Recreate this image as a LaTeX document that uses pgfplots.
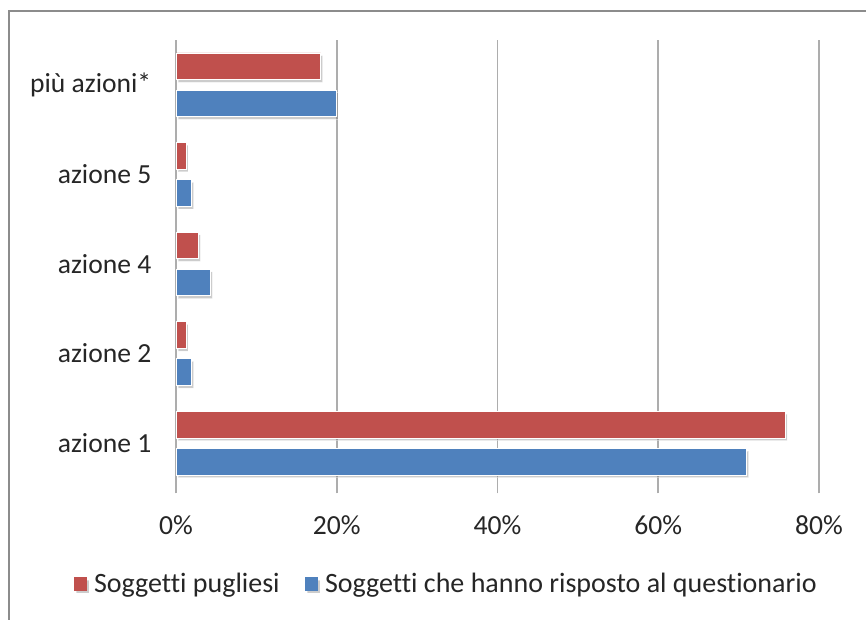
\documentclass[border=0pt]{standalone}
\usepackage{pgfplots}
\pgfplotsset{compat=1.18}
\usepackage{fontspec}
\setmainfont{Carlito}[Ligatures=NoCommon]
\usetikzlibrary{shadows}
\definecolor{cred}{HTML}{C0504D}
\definecolor{cblue}{HTML}{4F81BD}
\definecolor{cgrid}{HTML}{ADADAD}
\definecolor{cframe}{HTML}{8C8C8C}
\begin{document}
\begin{tikzpicture}
\useasboundingbox (0,0) rectangle (649.5pt,-465pt);
\draw[cframe, line width=1.5pt] (6.5pt,-470pt) -- (6.5pt,-8pt) -- (655pt,-8pt);
\begin{axis}[
  at={(132pt,-366pt)}, anchor=south west,
  scale only axis, width=482.25pt, height=336pt,
  xbar, bar width=20pt,
  xmin=0, xmax=80, ymin=-0.5, ymax=4.5,
  xtick={0,20,40,60,80},
  xticklabels={0\%,20\%,40\%,60\%,80\%},
  ytick={0,1,2,3,4},
  yticklabels={azione 1,azione 2,azione 4,azione 5,più azioni*},
  /pgf/number format/assume math mode=true,
  tick label style={font=\fontsize{20.7}{24}\selectfont, text=black!85},
  yticklabel style={xshift=-11pt},
  xticklabel style={yshift=-13pt},
  xmajorgrids, grid style={cgrid, line width=1.4pt},
  separate axis lines,
  axis x line*=bottom, axis y line*=left,
  x axis line style={draw=none},
  y axis line style={draw=cgrid, line width=1.4pt},
  ytick style={draw=none},
  xtick style={cgrid, line width=1.4pt},
  tick align=outside, major tick length=4pt,
  legend columns=2,
  legend style={at={(0.421,0)}, anchor=center, yshift=-72pt, draw=none,
    font=\fontsize{21}{24}\selectfont, text=black!85,
    /tikz/every odd column/.append style={column sep=3pt},
    /tikz/every even column/.append style={column sep=17pt}},
]
\addplot[fill=cred, draw=white, line width=0.6pt, bar shift=13.9pt,
  drop shadow={shadow xshift=1.5pt, shadow yshift=-2pt, opacity=0.4},
  legend image code/.code={\fill[cred, draw=none] (0pt,-5pt) rectangle (10pt,5pt);}]
  coordinates {(75.8,0) (1.24,1) (2.78,2) (1.24,3) (18.0,4)};
\addlegendentry{Soggetti pugliesi}
\addplot[fill=cblue, draw=white, line width=0.6pt, bar shift=-13.9pt,
  drop shadow={shadow xshift=1.5pt, shadow yshift=-2pt, opacity=0.4},
  legend image code/.code={\fill[cblue, draw=none] (0pt,-5pt) rectangle (10pt,5pt);}]
  coordinates {(71.0,0) (1.95,1) (4.27,2) (1.95,3) (19.9,4)};
\addlegendentry{Soggetti che hanno risposto al questionario}
\end{axis}
\end{tikzpicture}
\end{document}
